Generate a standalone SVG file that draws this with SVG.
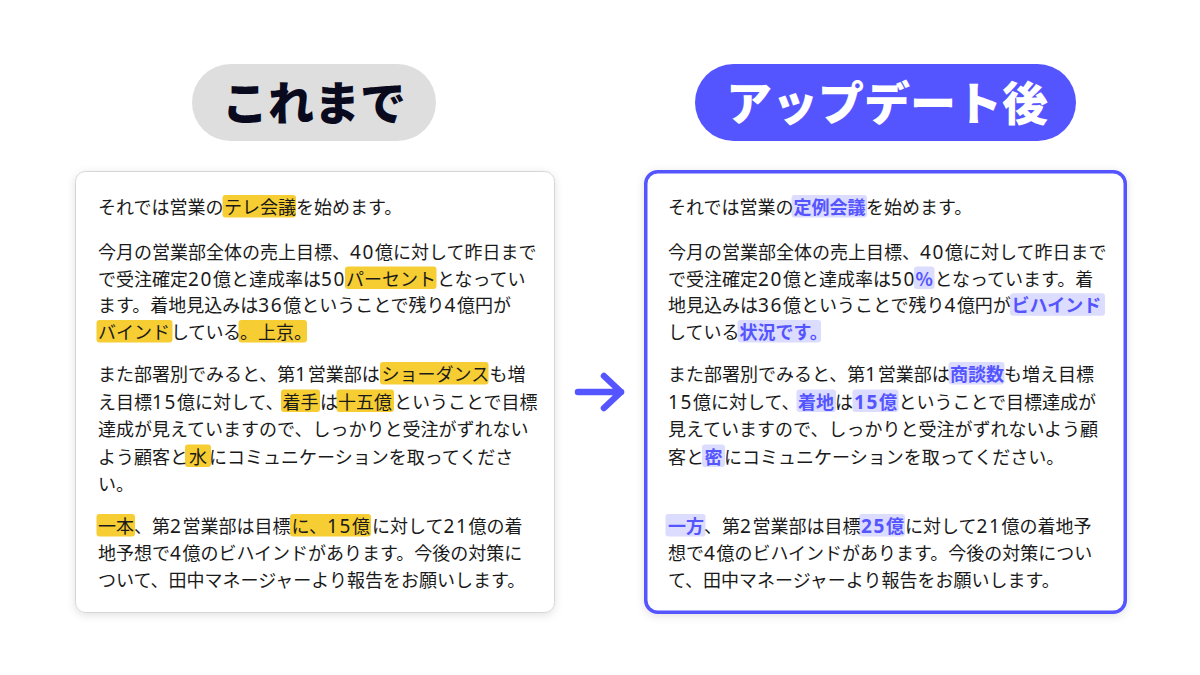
<svg xmlns="http://www.w3.org/2000/svg" width="1200" height="675" viewBox="0 0 1200 675">
<defs>
<filter id="sh" x="-10%" y="-10%" width="120%" height="120%">
<feDropShadow dx="0" dy="2" stdDeviation="4" flood-color="#000" flood-opacity="0.12"/>
</filter>
</defs>
<style>
.t{font-family:"Noto Sans CJK JP","Noto Sans CJK SC",sans-serif;font-size:18px;fill:#1a1a1a;}
.d{font-family:"Noto Sans","Noto Sans CJK JP",sans-serif;font-size:19px;letter-spacing:1.6px;}
.hy{fill:#f6cd33;}
.hb{fill:#dcdcff;}
.b{font-weight:700;fill:#5555ff;}
.h{font-family:"Noto Sans CJK JP","Noto Sans CJK SC",sans-serif;font-size:46px;font-weight:900;text-anchor:middle;}
</style>
<rect width="1200" height="675" fill="#ffffff"/>

<g id="pill-before">
<rect x="192" y="64" width="244" height="77" rx="38.5" fill="#dedede"/>
<text class="h" x="314" y="120" fill="#0a0a1e">これまで</text>
</g>

<g id="pill-after">
<rect x="695" y="64" width="381" height="77" rx="38.5" fill="#5555ff"/>
<text class="h" x="887" y="120" fill="#ffffff">アップデート後</text>
</g>

<g id="card-before">
<rect x="75.5" y="171.5" width="479" height="441" rx="10" fill="#ffffff" stroke="#d6d6d6" stroke-width="1" filter="url(#sh)"/>
<rect class="hy" x="222.5" y="195" width="73.5" height="22.5" rx="3"/>
<rect class="hy" x="345" y="266.5" width="91.5" height="22.5" rx="3"/>
<rect class="hy" x="96.5" y="320" width="76" height="22.5" rx="3"/>
<rect class="hy" x="238.5" y="320" width="68.5" height="22.5" rx="3"/>
<rect class="hy" x="380" y="362" width="108.5" height="22.5" rx="3"/>
<rect class="hy" x="281" y="389.5" width="39" height="22.5" rx="3"/>
<rect class="hy" x="336.5" y="389.5" width="57.5" height="22.5" rx="3"/>
<rect class="hy" x="185" y="444.5" width="26" height="22.5" rx="3"/>
<rect class="hy" x="96.5" y="514" width="38.5" height="22.5" rx="3"/>
<rect class="hy" x="290" y="514" width="81" height="22.5" rx="3"/>
<text class="t" y="214"><tspan x="98">それでは営業の</tspan><tspan x="224">テレ会議</tspan><tspan x="296">を始めます。</tspan></text>
<text class="t" x="98" y="258.5">今月の営業部全体の売上目標、<tspan class="d">40</tspan>億に対して昨日まで</text>
<text class="t" y="285.5"><tspan x="98">で受注確定<tspan class="d">20</tspan>億と達成率は<tspan class="d">50</tspan></tspan><tspan x="346">パーセント</tspan><tspan x="437">となってい</tspan></text>
<text class="t" x="98" y="312.3">ます。着地見込みは<tspan class="d">36</tspan>億ということで残り<tspan class="d">4</tspan>億円が</text>
<text class="t" y="339"><tspan x="98">バインド</tspan><tspan x="171" letter-spacing="-0.5">している</tspan><tspan x="240">。上京。</tspan></text>
<text class="t" y="381"><tspan x="98">また部署別でみると、第<tspan class="d">1</tspan>営業部は</tspan><tspan x="381.5">ショーダンス</tspan><tspan x="489.5">も増</tspan></text>
<text class="t" y="408.5"><tspan x="98">え目標<tspan class="d">15</tspan>億に対して、</tspan><tspan x="282.5">着手</tspan><tspan x="320">は</tspan><tspan x="338">十五億</tspan><tspan x="394">ということで目標</tspan></text>
<text class="t" x="98" y="436">達成が見えていますので、しっかりと受注がずれない</text>
<text class="t" y="463.5"><tspan x="98">よう顧客と</tspan><tspan x="189">水</tspan><tspan x="209">にコミュニケーションを取ってくださ</tspan></text>
<text class="t" x="98" y="490.5">い。</text>
<text class="t" y="533"><tspan x="98">一本</tspan>、第<tspan class="d">2</tspan>営業部は目標<tspan x="291.5">に、<tspan class="d">15</tspan>億</tspan><tspan x="372">に対して<tspan class="d">21</tspan>億の着</tspan></text>
<text class="t" x="98" y="560">地予想で<tspan class="d">4</tspan>億のビハインドがあります。今後の対策に</text>
<text class="t" x="98" y="587">ついて、田中マネージャーより報告をお願いします。</text>
</g>

<g id="card-after">
<rect x="645.75" y="171.75" width="479.5" height="440.5" rx="12" fill="#ffffff" stroke="#5555ff" stroke-width="3.5" filter="url(#sh)"/>
<rect class="hb" x="791.5" y="195" width="75.5" height="22.5" rx="3"/>
<rect class="hb" x="914" y="266.5" width="20.5" height="22.5" rx="3"/>
<rect class="hb" x="1010" y="293.3" width="95" height="22.5" rx="3"/>
<rect class="hb" x="737.5" y="320" width="83.5" height="22.5" rx="3"/>
<rect class="hb" x="948.5" y="362" width="56" height="22.5" rx="3"/>
<rect class="hb" x="796.5" y="389.5" width="39.5" height="22.5" rx="3"/>
<rect class="hb" x="852.5" y="389.5" width="46" height="22.5" rx="3"/>
<rect class="hb" x="702" y="444.5" width="23" height="22.5" rx="3"/>
<rect class="hb" x="665.5" y="514" width="40" height="22.5" rx="3"/>
<rect class="hb" x="859" y="514" width="46" height="22.5" rx="3"/>
<text class="t" y="214"><tspan x="668">それでは営業の</tspan><tspan class="b" x="793.5">定例会議</tspan><tspan x="866">を始めます。</tspan></text>
<text class="t" x="668" y="258.5">今月の営業部全体の売上目標、<tspan class="d">40</tspan>億に対して昨日まで</text>
<text class="t" y="285.5"><tspan x="668">で受注確定<tspan class="d">20</tspan>億と達成率は<tspan class="d">50</tspan></tspan><tspan class="b" x="915.5">%</tspan><tspan x="934.5">となっています。着</tspan></text>
<text class="t" y="312.3"><tspan x="668">地見込みは<tspan class="d">36</tspan>億ということで残り<tspan class="d">4</tspan>億円が</tspan><tspan class="b" x="1011.5">ビハインド</tspan></text>
<text class="t" y="339"><tspan x="668">している</tspan><tspan class="b" x="739.5">状況です。</tspan></text>
<text class="t" y="381"><tspan x="668">また部署別でみると、第<tspan class="d">1</tspan>営業部は</tspan><tspan class="b" x="950">商談数</tspan><tspan x="1004">も増え目標</tspan></text>
<text class="t" y="408.5"><tspan x="668"><tspan class="d">15</tspan>億に対して、</tspan><tspan class="b" x="798">着地</tspan><tspan x="835">は</tspan><tspan class="b" x="854"><tspan class="d">15</tspan>億</tspan><tspan x="898.5">ということで目標達成が</tspan></text>
<text class="t" x="668" y="436">見えていますので、しっかりと受注がずれないよう顧</text>
<text class="t" y="463.5"><tspan x="668">客と</tspan><tspan class="b" x="704.5">密</tspan><tspan x="724">にコミュニケーションを取ってください。</tspan></text>
<text class="t" y="533"><tspan class="b" x="668">一方</tspan><tspan x="704">、第<tspan class="d">2</tspan>営業部は目標</tspan><tspan class="b" x="861"><tspan class="d">25</tspan>億</tspan><tspan x="905">に対して<tspan class="d">21</tspan>億の着地予</tspan></text>
<text class="t" x="668" y="560">想で<tspan class="d">4</tspan>億のビハインドがあります。今後の対策につい</text>
<text class="t" x="668" y="587">て、田中マネージャーより報告をお願いします。</text>
</g>

<g id="connectors">
<path d="M578 392 H621 M604 376 L621 392 L604 408" fill="none" stroke="#5555ff" stroke-width="6.5" stroke-linecap="round" stroke-linejoin="round"/>
</g>
</svg>
